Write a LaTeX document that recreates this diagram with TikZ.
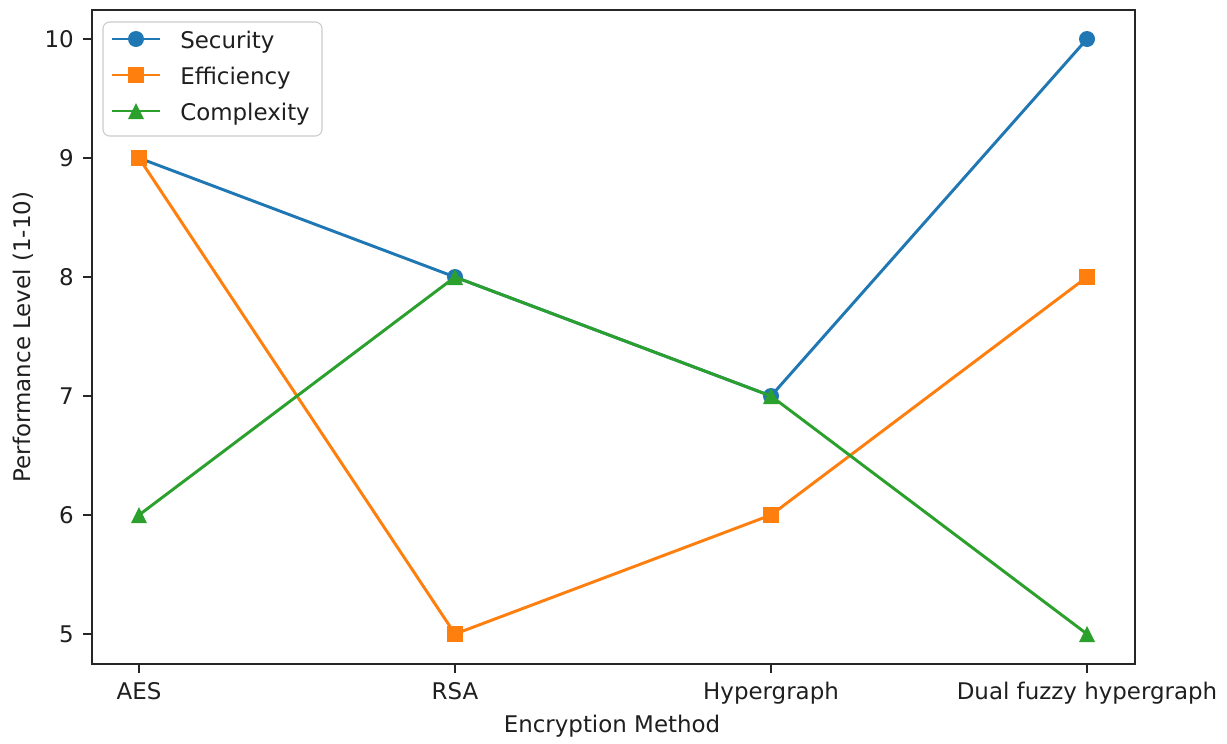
\documentclass[tikz,border=0pt]{standalone}
\usepackage{fontspec}
\setmainfont{DejaVu Sans}
\definecolor{tabblue}{HTML}{1F77B4}
\definecolor{taborange}{HTML}{FF7F0E}
\definecolor{tabgreen}{HTML}{2CA02C}
\tikzset{
  axisline/.style={line width=1.4pt, draw=black!85},
  tickmark/.style={line width=1.2pt, draw=black!85},
  series/.style={line width=2.2pt, line join=round},
  dotmark/.style={circle, inner sep=0pt, minimum size=12pt},
  sqmark/.style={rectangle, inner sep=0pt, minimum size=12pt},
  lbl/.style={font=\fontsize{17.2}{20}\selectfont, text=black!88, inner sep=0pt},
}
\newcommand{\trimark}[2]{\fill[#1] (#2) ++(0,-8) -- ++(8,16) -- ++(-16,0) -- cycle;}
\begin{document}
\begin{tikzpicture}[x=0.75pt,y=-0.75pt]
\useasboundingbox (0,0) rectangle (1227,743);
\fill[white] (0,0) rectangle (1227,743);

% data coordinates
\coordinate (s1) at (139,158); \coordinate (s2) at (455,277);
\coordinate (s3) at (771,396); \coordinate (s4) at (1087,39);
\coordinate (e1) at (139,158); \coordinate (e2) at (455,634);
\coordinate (e3) at (771,515); \coordinate (e4) at (1087,277);
\coordinate (c1) at (139,515); \coordinate (c2) at (455,277);
\coordinate (c3) at (771,396); \coordinate (c4) at (1087,634);

% Security
\draw[series, tabblue] (s1) -- (s2) -- (s3) -- (s4);
\foreach \p in {s1,s2,s3,s4} \node[dotmark, fill=tabblue] (m\p) at (\p) {};
% Efficiency
\draw[series, taborange] (e1) -- (e2) -- (e3) -- (e4);
\foreach \p in {e1,e2,e3,e4} \node[sqmark, fill=taborange] (m\p) at (\p) {};
% Complexity
\draw[series, tabgreen] (c1) -- (c2) -- (c3) -- (c4);
\foreach \p in {c1,c2,c3,c4} {\trimark{tabgreen}{\p}}

% axes frame
\draw[axisline] (92,10) rectangle (1135,664);

% y ticks
\foreach \v/\yy in {10/39,9/158,8/277,7/396,6/515,5/634} {
  \draw[tickmark] (92,\yy) -- (83,\yy);
  \node[lbl, anchor=east] (yt\v) at (74,\yy) {\v};
}
% x ticks
\foreach \i/\xx/\t in {1/139/AES,2/455/RSA,3/771/Hypergraph,4/1087/Dual fuzzy hypergraph} {
  \draw[tickmark] (\xx,664) -- (\xx,673);
  \node[lbl, anchor=base] (xt\i) at (\xx,699) {\t};
}

% axis labels
\node[lbl, anchor=base] (xlab) at (612,732) {Encryption Method};
\node[lbl, anchor=base, rotate=90] (ylab) at (31,337) {Performance Level (1-10)};

% legend
\draw[draw=black!20, fill=white, rounded corners=5pt, line width=0.8pt] (103,22) rectangle (322,136);
\coordinate (la1) at (112,39);  \coordinate (lb1) at (160,39);  \coordinate (lm1) at (136,39);
\coordinate (la2) at (112,75);  \coordinate (lb2) at (160,75);  \coordinate (lm2) at (136,75);
\coordinate (la3) at (112,111); \coordinate (lb3) at (160,111); \coordinate (lm3) at (136,111);
\draw[series, tabblue] (la1) -- (lb1);
\node[dotmark, fill=tabblue] (lg1) at (lm1) {};
\draw[series, taborange] (la2) -- (lb2);
\node[sqmark, fill=taborange] (lg2) at (lm2) {};
\draw[series, tabgreen] (la3) -- (lb3);
\trimark{tabgreen}{lm3}
\node[lbl, anchor=base west] (lt1) at (180,48.5) {Security};
\node[lbl, anchor=base west] (lt2) at (180,84) {Efficiency};
\node[lbl, anchor=base west] (lt3) at (180,120) {Complexity};
\end{tikzpicture}
\end{document}
